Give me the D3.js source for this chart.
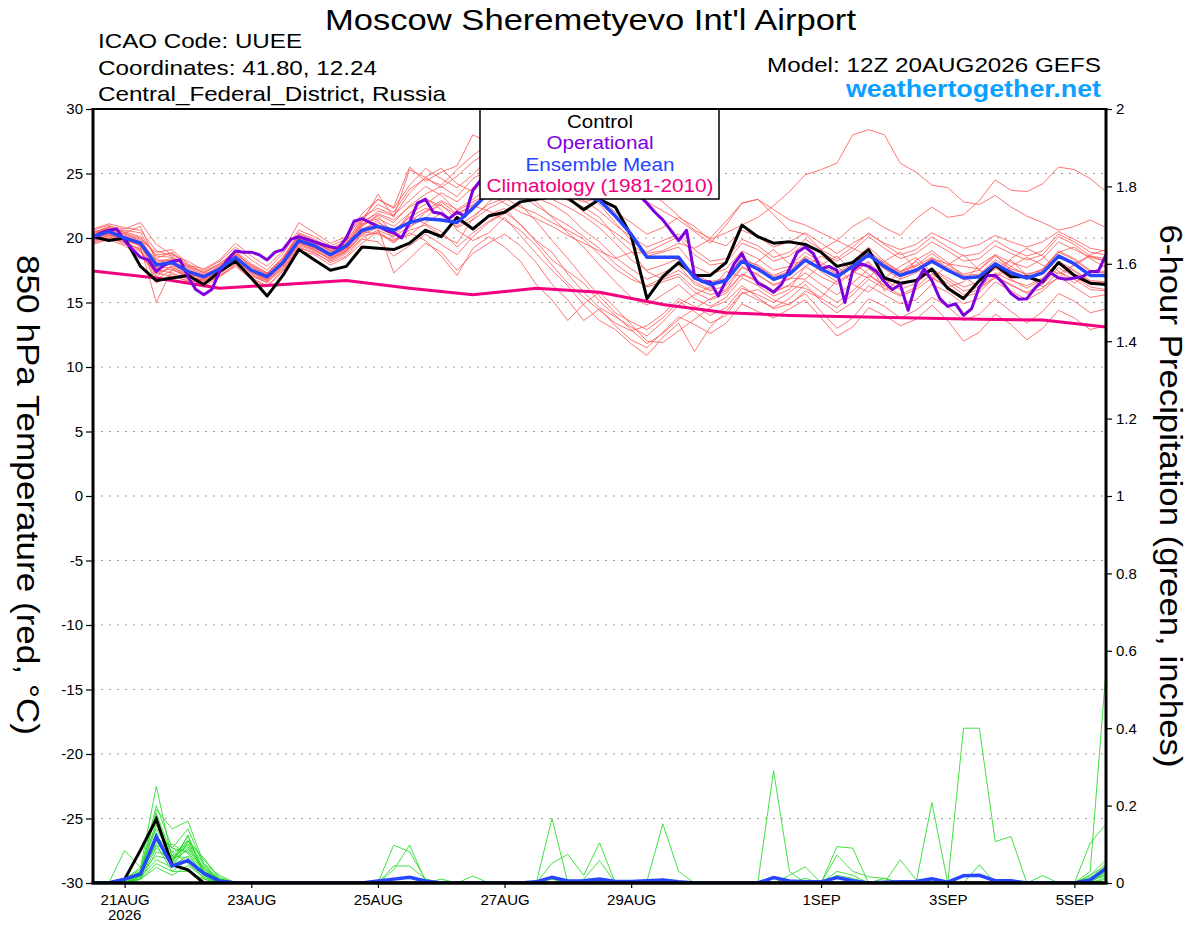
<!DOCTYPE html>
<html>
<head>
<meta charset="utf-8">
<script src="https://cdn.jsdelivr.net/npm/d3@7"></script>
<style>
body { margin: 0; background: #fff; }
svg { display: block; font-family: "Liberation Sans", Arial, sans-serif; }
</style>
</head>
<body>
<script>
// run start 12Z 20AUG2026, members/control/mean every 6 h, operational every 3 h, climatology daily
const runStart = Date.UTC(2026, 7, 20, 12);

const xTickDates = ["2026-08-21", "2026-08-23", "2026-08-25", "2026-08-27", "2026-08-29", "2026-09-01", "2026-09-03", "2026-09-05"];
const xTickLabels = ["21AUG", "23AUG", "25AUG", "27AUG", "29AUG", "1SEP", "3SEP", "5SEP"];
const yearLabel = "2026";
const tempTicks = [-30, -25, -20, -15, -10, -5, 0, 5, 10, 15, 20, 25, 30];
const precipTicks = [0, 0.2, 0.4, 0.6, 0.8, 1, 1.2, 1.4, 1.6, 1.8, 2];
const legendNames = ["Control", "Operational", "Ensemble Mean", "Climatology (1981-2010)"];

const controlTemp = [20.1, 19.8, 20.0, 17.8, 16.7, 16.9, 17.1, 16.4, 17.4, 18.2, 16.9, 15.5, 17.1, 19.1, 18.3,
  17.5, 17.8, 19.3, 19.2, 19.1, 19.6, 20.6, 20.1, 21.6, 20.7, 21.7, 22.0, 22.8, 23.0, 23.2,
  23.1, 22.2, 23.0, 22.4, 20.2, 15.3, 17.0, 18.1, 17.1, 17.1, 18.1, 21.0, 20.1, 19.6, 19.7,
  19.5, 18.9, 17.8, 18.1, 19.1, 16.9, 16.5, 16.7, 17.6, 16.1, 15.3, 16.7, 17.9, 17.0, 17.0,
  16.6, 18.1, 17.1, 16.5, 16.4];

const opTemp = [20.05, 20.4, 20.6, 20.7, 19.8, 19.1, 18.5, 18.3, 17.4, 17.9,
  18.2, 18.3, 17.0, 16.0, 15.6, 16.0, 17.4, 18.3, 19.0, 18.9,
  18.9, 18.7, 18.3, 18.9, 19.1, 19.9, 20.1, 19.9, 19.7, 19.5,
  19.3, 19.2, 20.0, 21.3, 21.5, 21.2, 20.9, 20.6, 20.4, 20.0,
  21.2, 22.7, 23.0, 22.0, 21.9, 21.5, 22.0, 21.7, 23.7, 24.5,
  24.8, 24.6, 24.4, 24.8, 25.2, 25.0, 24.6, 24.9, 25.1, 24.7,
  24.5, 24.2, 24.6, 24.4, 24.0, 23.9, 23.7, 23.6, 23.5, 23.3,
  22.7, 22.0, 21.4, 20.6, 19.8, 20.6, 17.1, 16.6, 16.6, 15.5,
  16.7, 18.0, 18.8, 17.5, 16.5, 16.2, 15.8, 16.4, 17.6, 18.9,
  19.3, 18.8, 17.6, 17.8, 17.5, 15.0, 17.5, 18.0, 17.8, 17.4,
  16.6, 16.0, 16.4, 14.4, 16.5, 17.6, 16.7, 15.3, 14.7, 14.9,
  14.0, 14.5, 16.2, 17.1, 17.1, 16.5, 15.7, 15.25, 15.3, 16.1,
  16.7, 17.3, 16.9, 16.8, 16.9, 17.0, 17.4, 17.4, 18.7];

const meanTemp = [20.1, 20.5, 20.0, 19.6, 17.9, 18.1, 17.4, 17.0, 17.6, 18.5, 17.5, 17.0, 18.1, 19.8, 19.4,
  18.7, 19.4, 20.6, 20.9, 20.6, 21.2, 21.5, 21.4, 21.2, 22.3, 23.5, 23.8, 24.1, 24.3, 24.2,
  23.8, 23.3, 22.9, 21.7, 20.3, 18.5, 18.5, 18.5, 16.9, 16.4, 16.7, 18.2, 17.6, 16.8, 17.2,
  18.3, 17.6, 17.0, 17.8, 18.7, 17.8, 17.1, 17.5, 18.2, 17.5, 16.9, 17.0, 18.0, 17.3, 16.9,
  17.3, 18.6, 18.0, 17.1, 17.1];

const climTemp = [17.45, 16.9, 16.1, 16.4, 16.7, 16.1, 15.6, 16.1, 15.8, 14.85, 14.2, 14.0, 13.9, 13.8, 13.7, 13.65, 13.1];

const tempMembers = [
  [20.3,20.8,20.5,20.1,18.6, 18.5,17.6,17.1,17.8,18.9, 17.8,17.2,18.4,20.3,19.8, 19.0,19.6,21.0,21.8,21.2, 22.5,23.4,24.0,23.2,24.6, 25.3,25.8,25.2,24.6,24.0, 23.1,22.0,21.2,20.4,19.5, 18.6,18.9,19.3,17.8,17.2, 17.6,19.0,18.4,17.5,17.8, 18.9,18.1,17.3,18.2,19.3, 18.2,17.4,17.9,18.8,17.9, 17.2,17.5,18.6,17.8,17.1, 17.6,19.0,18.4,17.5,17.4],
  [19.8,20.2,19.6,18.9,17.2, 17.8,17.0,16.7,17.3,18.2, 17.2,16.5,17.8,19.5,19.1, 18.3,18.9,20.2,20.4,19.6, 20.8,22.0,22.6,21.4,20.7, 21.8,22.3,21.0,19.8,18.9, 17.2,15.8,14.6,13.9,13.1, 12.4,13.5,14.8,15.6,16.2, 16.8,18.3,17.9,17.1,17.6, 18.5,17.4,16.6,17.3,18.1, 17.0,16.3,16.8,17.6,16.9, 16.2,16.6,17.7,16.8,16.1, 16.8,18.1,17.4,16.6,16.5],
  [20.6,21.0,20.4,20.9,18.2, 18.4,17.8,17.4,18.0,19.0, 18.0,17.3,18.5,20.1,19.7, 19.1,19.8,21.4,22.6,22.0, 23.8,24.6,24.1,25.3,26.4, 27.3,27.9,27.5,26.6,26.0, 25.4,24.6,24.9,25.5,24.7, 23.6,22.8,21.7,20.6,20.0, 21.3,22.7,23.0,21.8,20.6, 20.3,19.1,19.8,20.9,21.6, 20.8,20.2,21.5,22.4,21.6, 21.8,22.9,24.5,23.7,23.6, 24.2,25.5,25.3,24.6,23.6],
  [19.9,20.4,20.1,19.3,15.0, 17.6,16.9,16.8,17.4,18.3, 17.3,16.8,17.9,19.6,19.3, 18.5,19.0,20.9,21.7,20.3, 21.9,23.1,22.2,20.6,19.8, 20.4,21.6,20.2,18.8,17.5, 16.3,14.8,13.6,12.9,11.8, 10.9,12.3,13.4,11.2,13.1, 14.3,15.8,15.2,14.6,15.3, 16.4,15.1,14.2,15.0,16.3, 15.6,14.9,15.2,16.4,15.8, 14.9,15.3,16.6,15.9,15.2, 15.9,17.0,16.2,15.4,15.6],
  [20.2,20.6,20.3,19.8,18.9, 19.1,18.0,17.3,17.9,18.8, 17.7,17.1,18.3,20.0,19.6, 19.0,19.5,21.2,23.4,21.6, 25.3,24.7,23.9,24.8,25.9, 26.7,26.1,25.0,24.2,23.6, 22.9,22.4,21.6,20.1,19.0, 17.4,16.8,17.2,16.1,15.6, 16.0,17.7,17.2,16.3,16.9, 16.8,17.9,18.6,17.4,16.9, 18.2,18.9,17.6,16.8,17.9, 18.7,17.5,16.9,17.8,18.5, 17.9,17.2,17.9,18.6,18.2],
  [19.6,20.0,19.8,19.0,17.5, 17.3,16.8,16.4,17.1,17.9, 16.9,16.3,17.5,19.2,18.9, 18.1,18.6,19.9,19.7,18.6, 19.4,20.3,19.5,18.7,20.1, 21.2,21.9,22.6,21.3,19.8, 18.4,16.9,15.5,14.2,13.5, 12.9,13.8,15.1,14.3,13.4, 14.0,15.7,16.0,15.2,14.8, 15.9,15.3,14.6,15.6,16.8, 16.1,15.5,16.0,16.9,16.2, 15.4,15.8,17.0,16.4,15.7, 16.1,17.4,16.8,16.0,15.9],
  [20.4,20.9,20.7,21.2,19.5, 18.7,18.2,17.5,18.2,19.3, 18.3,17.5,18.8,20.6,20.1, 19.4,19.9,21.9,23.0,22.4, 25.5,24.4,25.1,25.6,28.0, 27.4,26.8,27.9,28.3,27.6, 26.5,25.8,26.2,25.1,24.0, 22.8,22.1,21.4,20.5,19.6, 21.0,22.7,23.0,22.2,21.4, 21.0,20.4,19.8,19.2,18.6, 17.6,16.8,17.3,18.4,18.0, 17.8,17.6,18.7,18.1,17.7, 18.4,19.7,19.1,18.5,18.2],
  [20.0,20.3,19.9,19.5,17.0, 17.9,17.2,16.9,17.5,18.4, 17.6,17.1,18.2,20.0,19.5, 18.8,19.3,20.4,21.0,20.2, 21.3,22.1,22.9,22.2,23.0, 23.9,24.4,24.0,23.1,22.6, 21.8,20.6,19.7,18.5,17.6, 16.8,17.3,17.9,16.4,15.9, 16.3,17.8,17.1,16.4,16.8, 17.8,17.0,16.4,17.3,18.2, 15.9,16.8,18.3,19.0,18.1, 17.0,16.2,16.9,18.4,19.2, 18.6,17.4,16.5,17.3,17.9],
  [19.7,20.1,19.5,19.2,16.5, 17.2,16.6,16.2,17.0,18.0, 17.1,16.7,17.7,19.4,19.0, 18.4,19.0,20.3,20.8,17.3, 18.4,19.6,18.9,17.5,18.8, 19.6,20.3,19.4,18.1,16.4, 15.2,13.6,14.5,13.2,12.1, 11.5,12.7,13.9,13.3,12.6, 13.4,14.9,14.3,13.8,14.5, 15.2,13.8,12.4,13.1,14.6, 14.0,13.2,13.7,14.8,13.6, 12.0,12.7,14.1,13.3,12.1, 13.0,14.4,13.8,12.9,13.2],
  [20.5,20.7,20.6,20.4,18.4, 18.9,17.9,17.6,18.3,19.6, 18.6,17.8,19.0,21.2,20.4, 19.6,20.1,21.6,22.3,21.8, 22.9,24.0,23.3,22.1,22.8, 23.4,22.7,22.0,21.5,20.9, 20.2,19.6,19.0,18.4,18.9, 18.8,19.0,19.6,19.2,19.9, 20.4,21.0,21.6,22.5,23.6, 24.9,25.3,25.8,28.0,28.4, 28.0,25.8,25.1,24.1,23.9, 22.8,22.6,23.3,22.4,21.7, 21.2,20.6,20.9,21.4,20.8],
  [20.1,20.5,20.2,19.7,17.6, 18.0,17.3,16.9,17.6,18.6, 17.6,16.9,18.0,19.8,19.3, 18.6,19.1,20.7,21.2,20.6, 21.6,22.3,21.8,20.9,21.7, 22.6,23.1,22.4,21.9,21.2, 20.6,19.9,18.7,17.6,16.8, 16.3,16.9,17.5,16.6,16.0, 17.4,17.0,18.2,19.1,18.0, 18.2,17.5,17.1,17.9,18.9, 18.1,17.4,17.8,18.5,17.7, 17.1,17.2,18.3,17.6,17.2, 17.5,18.9,18.3,17.4,17.3],
  [19.9,20.3,19.7,19.1,16.8, 17.5,17.1,16.6,17.2,18.1, 17.0,16.6,17.6,19.3,18.8, 18.2,18.8,20.0,20.6,20.1, 20.9,21.5,22.8,21.9,22.5, 22.1,21.4,20.6,19.4,17.9, 16.5,15.4,14.4,13.4,12.8, 13.2,14.1,15.3,14.7,14.0, 14.6,16.1,15.6,15.0,15.8, 16.7,15.8,15.0,15.9,17.1, 16.3,15.6,16.2,17.2,16.5, 15.6,16.0,17.1,16.3,15.8, 16.4,17.7,17.0,16.2,16.0],
  [20.7,21.1,20.8,20.6,19.0, 18.6,17.7,17.2,17.7,18.7, 17.4,16.8,18.0,19.7,19.2, 18.6,19.2,21.0,22.1,21.7, 23.5,24.7,25.4,24.2,23.6, 24.8,25.6,26.3,25.9,24.8, 24.1,23.5,22.6,21.2,19.8, 18.9,19.5,20.1,18.7,17.9, 18.1,19.6,19.1,18.2,18.6, 19.6,18.9,18.2,19.0,20.1, 19.2,18.4,18.8,19.7,19.0, 18.2,18.4,19.4,18.8,18.3, 18.7,20.1,19.5,18.6,18.4],
  [19.5,19.9,19.4,18.6,17.3, 17.0,16.7,16.5,17.0,17.8, 16.8,16.2,17.4,19.0,18.7, 17.9,18.5,19.6,20.5,19.7, 20.4,19.8,18.6,17.1,19.2, 20.1,19.3,18.2,16.4,15.2, 13.6,14.9,15.8,14.6,13.3, 12.0,11.9,12.8,13.7,14.6, 15.1,16.3,15.4,14.5,14.9, 15.7,14.3,13.0,13.8,15.3, 14.7,13.8,14.4,15.4,14.7, 13.6,14.1,15.3,14.3,13.4, 14.3,15.7,15.1,14.2,14.5],
  [20.3,20.7,20.3,19.9,18.1, 18.3,17.5,17.0,17.7,18.6, 17.6,17.0,18.2,19.9,19.5, 18.9,19.4,21.1,21.5,20.9, 21.9,22.6,23.5,22.8,23.9, 24.6,25.1,24.7,23.8,23.0, 22.4,21.7,20.8,19.6,18.3, 17.5,17.9,18.4,17.2,16.6, 16.9,18.5,17.8,17.0,17.4, 18.6,17.9,17.2,18.0,19.0, 18.0,17.3,17.6,18.4,17.6, 16.8,17.1,18.1,17.4,16.9, 17.4,18.7,18.1,17.2,17.0],
  [20.0,20.4,19.8,19.4,17.7, 17.7,17.2,16.8,17.4,18.5, 17.5,16.9,18.1,19.7,19.2, 18.6,19.2,20.5,20.3,19.8, 20.6,21.0,20.2,19.6,21.5, 22.8,23.6,23.3,22.5,21.7, 21.0,20.1,19.2,18.0,17.1, 16.2,16.6,17.0,15.8,15.2, 15.7,17.2,16.7,15.9,16.3, 16.1,15.4,16.7,18.1,17.2, 16.3,17.4,18.2,17.0,16.1, 15.4,16.8,17.6,18.3,17.1, 16.2,16.9,18.0,18.7,19.1],
  [20.2,20.6,20.1,19.7,18.3, 18.2,17.4,17.0,17.8,18.7, 17.9,17.3,18.3,20.2,19.7, 19.0,19.5,21.3,21.9,21.4, 22.4,23.0,22.5,21.8,22.6, 23.4,24.9,25.6,24.9,24.0, 23.2,22.8,23.1,22.0,21.2, 20.3,20.8,21.6,20.9,19.8, 19.4,20.6,20.1,19.3,19.7, 20.4,19.6,18.8,19.6,20.3, 19.6,19.1,19.5,20.4,19.8, 19.2,19.5,20.2,19.7,19.3, 19.7,20.5,19.9,19.2,19.0],
  [19.8,20.2,19.9,19.4,17.4, 17.6,17.0,16.7,17.3,18.3, 17.3,16.7,17.9,19.6,19.1, 18.4,19.0,20.4,21.0,20.3, 21.7,21.1,20.5,19.3,20.4, 21.3,22.0,21.1,19.7,18.3, 17.4,16.5,15.1,14.0,12.9, 11.8,12.6,13.7,14.5,15.3, 15.9,17.2,16.6,15.7,16.4, 17.3,16.4,15.6,16.5,17.6, 16.8,16.0,16.5,17.5,16.7, 15.9,16.2,17.3,16.7,16.3, 16.9,18.2,17.5,16.7,16.6],
  [20.4,20.8,20.4,20.0,18.7, 18.8,17.8,17.3,18.0,18.9, 17.8,17.2,18.5,20.4,19.9, 19.2,19.7,21.5,23.0,22.3, 24.1,25.4,24.6,23.9,24.9, 26.2,26.9,26.0,25.1,24.3, 23.6,22.9,22.1,21.0,20.1, 19.3,19.8,20.3,19.1,18.2, 18.4,19.9,19.4,18.5,18.9, 19.9,19.1,18.4,19.3,20.4, 19.5,18.7,19.1,20.1,19.3, 18.6,18.8,19.8,19.1,18.6, 19.0,20.3,19.7,18.9,18.7],
  [20.0,20.5,20.0,19.6,17.8, 18.0,17.3,16.9,17.5,18.4, 17.4,16.9,18.0,19.8,19.4, 18.7,19.2,20.6,21.4,19.9, 20.2,21.2,21.9,20.8,21.4, 22.3,22.9,23.6,22.8,21.6, 20.4,19.3,17.9,16.6,15.4, 14.8,15.6,16.4,15.3,14.7, 15.4,16.9,16.3,15.5,16.0, 17.8,18.6,17.9,16.4,15.8, 16.9,17.8,18.5,17.3,16.2, 16.6,17.9,18.7,17.5,16.8, 17.6,18.9,19.3,18.4,17.7]
];

const controlPrecip = [0,0,.01,.085,.165, .047,.034,0,0,0, 0,0,0,0,0, 0,0,0,0,0, 0,0,0,0,0, 0,0,0,0,0, 0,0,0,0,0, 0,0,0,0,0, 0,0,0,0,0, 0,0,0,0,0, 0,0,0,0,0, 0,0,0,0,0, 0,0,0,0,0];

const meanPrecip = [0,0,.01,.023,.12, .044,.058,.025,.005,0, 0,0,0,0,0, 0,0,0,.005,.01, .015,.005,0,0,0, 0,0,0,.003,.015, .005,.006,.01,.004,.004, .006,.008,.003,0,0, 0,0,0,.014,.005, .003,.003,.014,.006,0, .002,.003,.004,.011,.002, .019,.02,.006,.006,0, 0,0,0,.008,.038];

const precipMembers = [
  [0,0,.084,.04,.25, .06,.12,.03,.01,0, 0,0,0,0,0, 0,0,0,0,0, 0,0,0,0,0, 0,0,0,0,0, 0,0,0,0,0, 0,0,0,0,0, 0,0,0,.29,.03, 0,0,0,0,0, 0,0,0,0,0, 0,0,0,0,0, 0,0,0,0,0],
  [0,0,0,.02,.19, .14,.16,.05,.005,0, 0,0,0,0,0, 0,0,0,0,.098, .081,.01,0,0,0, 0,0,0,0,0, 0,0,0,0,0, 0,0,0,0,0, 0,0,0,0,0, 0,0,0,0,0, 0,0,0,.208,0, 0,0,0,0,0, 0,0,0,0,0],
  [0,0,.01,.03,.18, .07,.11,.065,.01,0, 0,0,0,0,0, 0,0,0,0,.034, .098,.005,0,0,0, 0,0,0,0,0, 0,0,0,0,0, 0,0,0,0,0, 0,0,0,0,0, 0,0,.094,.09,0, 0,0,0,0,0, 0,0,0,0,0, 0,0,0,0,0],
  [0,0,0,.01,.13, .09,.08,.03,0,0, 0,0,0,0,0, 0,0,0,0,.044, .044,.01,0,0,0, 0,0,0,0,0, 0,0,0,0,0, 0,0,0,0,0, 0,0,0,0,0, 0,0,0,0,0, 0,0,0,0,0, .4,.4,.107,.12,0, .019,0,0,0,0],
  [0,0,.01,.026,.16, .05,.124,.02,.005,0, 0,0,0,0,0, 0,0,0,0,0, 0,0,0,0,0, 0,0,0,0,.167, 0,0,0,0,0, 0,0,0,0,0, 0,0,0,0,0, 0,0,.072,.03,.016, .012,0,0,0,0, 0,0,0,0,0, 0,0,0,0,0],
  [0,0,0,.02,.107, .065,.094,.04,.01,0, 0,0,0,0,0, 0,0,0,0,0, 0,0,0,0,0, 0,0,0,0,.051, .074,.02,.104,0,0, 0,0,0,0,0, 0,0,0,0,0, 0,0,0,0,0, 0,0,0,0,0, 0,0,0,0,0, 0,0,0,.03,.55],
  [0,0,.005,.03,.094, .1,.077,.02,0,0, 0,0,0,0,0, 0,0,0,0,0, 0,0,0,0,0, 0,0,0,0,0, 0,.01,.058,0,0, 0,0,0,0,0, 0,0,0,0,.02, .042,0,0,0,0, 0,0,0,0,0, 0,0,0,0,0, 0,0,0,0,0],
  [0,0,0,.015,.06, .04,.107,.06,.015,0, 0,0,0,0,0, 0,0,0,0,0, 0,0,0,0,0, 0,0,0,0,0, 0,0,0,0,0, .005,.153,.03,0,0, 0,0,0,0,0, 0,0,0,0,0, 0,0,0,0,0, 0,0,0,0,0, 0,0,0,.103,.152],
  [0,0,.01,.04,.14, .08,.05,.015,0,0, 0,0,0,0,0, 0,0,0,0,0, 0,0,0,0,.018, 0,0,0,0,0, 0,0,0,0,0, 0,0,0,0,0, 0,0,0,0,0, 0,0,.02,.012,0, 0,0,0,0,0, 0,.047,0,0,0, 0,0,0,0,.04],
  [0,0,0,.01,.05, .03,.06,.02,.005,0, 0,0,0,0,0, 0,0,0,0,0, 0,0,0,0,0, 0,0,0,0,0, 0,0,0,0,0, 0,0,0,0,0, 0,0,0,0,0, 0,0,0,0,0, 0,.06,.008,0,0, 0,0,0,0,0, 0,0,0,0,.03],
  [0,0,.005,.02,.12, .05,.09,.03,.01,0, 0,0,0,0,0, 0,0,0,0,0, 0,0,.01,0,0, 0,0,0,0,0, 0,0,0,0,0, 0,0,0,0,0, 0,0,0,0,0, 0,0,0,0,0, 0,0,0,0,0, 0,0,0,0,0, 0,0,0,.01,.05],
  [0,0,0,.01,.08, .07,.065,.01,0,0, 0,0,0,0,0, 0,0,0,0,0, 0,0,0,0,0, 0,0,0,0,0, 0,0,0,0,0, 0,0,0,0,0, 0,0,0,0,0, .012,0,.03,.02,0, 0,0,0,0,0, 0,0,0,0,0, 0,0,0,.005,.02],
  [0,0,.01,.035,.2, .09,.14,.045,.01,0, 0,0,0,0,0, 0,0,0,0,0, 0,0,0,0,0, 0,0,0,0,0, 0,0,0,0,0, 0,0,0,0,0, 0,0,0,0,0, 0,0,0,0,0, .012,0,0,0,0, 0,0,0,0,0, 0,0,0,.02,.06],
  [0,0,0,.02,.1, .03,.03,.01,0,0, 0,0,0,0,0, 0,0,0,0,0, 0,0,0,0,0, 0,0,0,0,0, 0,0,0,0,0, 0,0,0,0,0, 0,0,0,0,0, 0,0,0,0,0, 0,0,0,.01,0, 0,0,0,0,0, 0,0,0,.01,.025],
  [0,0,.005,.025,.07, .06,.1,.05,.02,0, 0,0,0,0,0, 0,0,0,0,0, 0,0,0,0,0, 0,0,0,0,.01, 0,0,0,0,0, 0,0,0,0,0, 0,0,0,0,0, 0,0,0,0,0, 0,0,0,0,0, 0,0,0,0,0, 0,0,0,.015,.035],
  [0,0,0,.01,.04, .02,.045,.015,0,0, 0,0,0,0,0, 0,0,0,0,0, 0,0,0,0,0, 0,0,0,0,0, 0,0,0,0,0, 0,.01,0,0,0, 0,0,0,0,0, 0,0,0,0,0, 0,0,0,0,0, 0,0,0,0,0, 0,0,0,0,.015],
  [0,0,.01,.02,.11, .045,.07,.025,.005,0, 0,0,0,0,0, 0,0,0,0,0, 0,0,0,0,0, 0,0,0,0,0, 0,0,0,0,0, 0,0,0,0,0, 0,0,0,0,0, 0,0,0,0,0, 0,0,0,0,0, 0,0,0,0,0, 0,0,0,.02,.045],
  [0,0,0,.015,.09, .055,.11,.035,.01,0, 0,0,0,0,0, 0,0,0,0,0, 0,0,0,0,0, 0,0,0,0,0, 0,0,0,0,0, 0,0,0,0,0, 0,0,0,0,0, 0,0,0,0,0, 0,0,0,0,0, 0,0,0,0,0, 0,0,0,.01,.02],
  [0,0,.005,.03,.15, .06,.085,.04,.005,0, 0,0,0,0,0, 0,0,0,0,0, 0,0,0,0,0, 0,0,0,0,0, 0,0,0,0,0, 0,0,0,0,0, 0,0,0,0,0, 0,0,0,0,0, 0,0,0,0,0, 0,0,0,0,0, 0,0,0,0,.01],
  [0,0,0,.02,.12, .08,.1,.03,.01,0, 0,0,0,0,0, 0,0,0,0,0, 0,0,0,0,0, 0,0,0,0,0, 0,0,0,0,0, 0,0,0,0,0, 0,0,0,0,0, 0,0,0,0,0, 0,0,0,0,0, 0,0,0,0,0, 0,0,0,.01,.03]
];

const draw = () => {
    let w = 1200,
        h = 927;
    let left = 93, right = 1106, top = 109, bottom = 883;
    const hour = 3600 * 1000;

    let svg = d3.select("body")
        .append("svg")
        .attr("width", w)
        .attr("height", h);

    let x = d3.scaleUtc()
        .domain([new Date(runStart), new Date(runStart + 384 * hour)])
        .range([left, right]);
    let yT = d3.scaleLinear().domain([-30, 30]).range([bottom, top]);
    let yP = d3.scaleLinear().domain([0, 2]).range([bottom, top]);

    // stretch text to the wide look of the original font
    const fit = (sel, len) => sel.attr("textLength", len).attr("lengthAdjust", "spacingAndGlyphs");

    //titles
    fit(svg.append("text").attr("x", 590.5).attr("y", 30).attr("text-anchor", "middle")
        .attr("font-size", 29).text("Moscow Sheremetyevo Int'l Airport"), 531);
    let info = ["ICAO Code: UUEE", "Coordinates: 41.80, 12.24", "Central_Federal_District, Russia"];
    let infoLen = [204, 279, 348];
    info.forEach((t, i) => {
        fit(svg.append("text").attr("x", 98).attr("y", 48 + i * 26.5)
            .attr("font-size", 21).text(t), infoLen[i]);
    });
    fit(svg.append("text").attr("x", 1101).attr("y", 72).attr("text-anchor", "end")
        .attr("font-size", 21).text("Model: 12Z 20AUG2026 GEFS"), 334);
    fit(svg.append("text").attr("x", 1101).attr("y", 97).attr("text-anchor", "end")
        .attr("font-size", 23).attr("font-weight", "bold").attr("fill", "#0aa0ff")
        .text("weathertogether.net"), 255);

    //grid
    svg.append("g").selectAll("line")
        .data(tempTicks.filter(d => d > -30 && d < 30))
        .enter().append("line")
        .attr("x1", left).attr("x2", right)
        .attr("y1", d => yT(d)).attr("y2", d => yT(d))
        .attr("stroke", "#9a9a9a").attr("stroke-width", 1.2)
        .attr("stroke-dasharray", "2,6");

    svg.append("clipPath").attr("id", "plot")
        .append("rect").attr("x", left).attr("y", top)
        .attr("width", right - left).attr("height", bottom - top);

    let lineStep = step => d3.line()
        .x((d, i) => x(new Date(runStart + i * step * hour)));

    let plot = svg.append("g").attr("clip-path", "url(#plot)");

    //precip members
    plot.append("g").selectAll("path")
        .data(precipMembers).enter().append("path")
        .attr("d", lineStep(6).y(d => yP(d)))
        .attr("fill", "none").attr("stroke", "#2fdc2f").attr("stroke-width", 0.9);

    //temp members
    plot.append("g").selectAll("path")
        .data(tempMembers).enter().append("path")
        .attr("d", lineStep(6).y(d => yT(d)))
        .attr("fill", "none").attr("stroke", "#ff5555").attr("stroke-width", 0.9)
        .attr("stroke-opacity", 0.9);

    plot.append("path").datum(climTemp)
        .attr("d", lineStep(24).y(d => yT(d)))
        .attr("fill", "none").attr("stroke", "#f2007f").attr("stroke-width", 3);

    plot.append("path").datum(controlPrecip)
        .attr("d", lineStep(6).y(d => yP(d)))
        .attr("fill", "none").attr("stroke", "#000").attr("stroke-width", 3);
    plot.append("path").datum(meanPrecip)
        .attr("d", lineStep(6).y(d => yP(d)))
        .attr("fill", "none").attr("stroke", "#2845ff").attr("stroke-width", 3.5);

    plot.append("path").datum(controlTemp)
        .attr("d", lineStep(6).y(d => yT(d)))
        .attr("fill", "none").attr("stroke", "#000").attr("stroke-width", 3)
        .attr("stroke-linejoin", "round");
    plot.append("path").datum(opTemp)
        .attr("d", lineStep(3).y(d => yT(d)))
        .attr("fill", "none").attr("stroke", "#7f00dd").attr("stroke-width", 3)
        .attr("stroke-linejoin", "round");
    plot.append("path").datum(meanTemp)
        .attr("d", lineStep(6).y(d => yT(d)))
        .attr("fill", "none").attr("stroke", "#2845ff").attr("stroke-width", 3.5)
        .attr("stroke-linejoin", "round");

    //legend
    svg.append("rect").attr("x", 480).attr("y", top).attr("width", 239).attr("height", 90)
        .attr("fill", "#fff").attr("stroke", "#000").attr("stroke-width", 1.5);
    let legColors = ["#000", "#7f00dd", "#2845ff", "#f2007f"];
    let legLen = [66, 107, 149, 227];
    legendNames.forEach((t, i) => {
        fit(svg.append("text").attr("x", 600).attr("y", 128 + i * 21.3)
            .attr("text-anchor", "middle").attr("font-size", 18)
            .attr("fill", legColors[i]).text(t), legLen[i]);
    });

    //axes
    let yAxisL = d3.axisLeft(yT).tickValues(tempTicks).tickSize(7).tickPadding(3)
        .tickFormat(d => String(d));
    let gl = svg.append("g").attr("transform", `translate(${left},0)`).call(yAxisL);
    let yAxisR = d3.axisRight(yP).tickValues(precipTicks).tickSize(6).tickPadding(4)
        .tickFormat(d => String(+d.toFixed(1)));
    let gr = svg.append("g").attr("transform", `translate(${right},0)`).call(yAxisR);
    let xAxis = d3.axisBottom(x)
        .tickValues(xTickDates.map(d => new Date(d + "T00:00:00Z")))
        .tickSize(5).tickPadding(6)
        .tickFormat((d, i) => xTickLabels[i]);
    let gx = svg.append("g").attr("transform", `translate(0,${bottom})`).call(xAxis);

    [gl, gr, gx].forEach(g => {
        g.select(".domain").remove();
        g.selectAll("text").attr("font-size", 15).attr("fill", "#000")
            .attr("font-family", "'Liberation Sans', Arial, sans-serif");
        g.selectAll(".tick line").attr("stroke", "#000").attr("stroke-width", 1.2);
    });
    gx.append("text").attr("x", x(new Date(xTickDates[0] + "T00:00:00Z"))).attr("y", 37)
        .attr("text-anchor", "middle").attr("font-size", 15).attr("fill", "#000")
        .attr("font-family", "'Liberation Sans', Arial, sans-serif")
        .text(yearLabel);

    //frame
    svg.append("line").attr("x1", left).attr("x2", right).attr("y1", top).attr("y2", top)
        .attr("stroke", "#000").attr("stroke-width", 2);
    svg.append("line").attr("x1", left - 1.5).attr("x2", right + 1.5).attr("y1", bottom).attr("y2", bottom)
        .attr("stroke", "#000").attr("stroke-width", 3.5);
    svg.append("line").attr("x1", left).attr("x2", left).attr("y1", top - 1).attr("y2", bottom)
        .attr("stroke", "#000").attr("stroke-width", 3);
    svg.append("line").attr("x1", right).attr("x2", right).attr("y1", top - 1).attr("y2", bottom)
        .attr("stroke", "#000").attr("stroke-width", 3);

    //axis titles
    fit(svg.append("text").attr("transform", "translate(17,495) rotate(90)")
        .attr("text-anchor", "middle").attr("font-size", 32)
        .text("850 hPa Temperature (red, °C)"), 480);
    fit(svg.append("text").attr("transform", "translate(1160,496) rotate(90)")
        .attr("text-anchor", "middle").attr("font-size", 32)
        .text("6-hour Precipitation (green, inches)"), 543);
}

draw()
</script>
</body>
</html>
